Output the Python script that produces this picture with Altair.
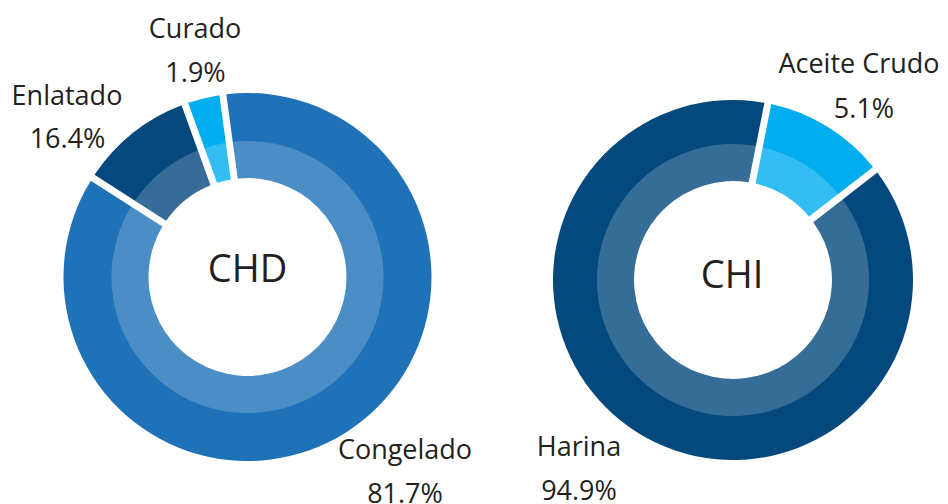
import math
import altair as alt
import pandas as pd

# ---- data ----
chd_cats = ["Congelado", "Enlatado", "Curado"]
chd_label_pct = [81.7, 16.4, 1.9]          # printed labels
chd_slice_share = [86.3, 10.4, 3.4]        # angular share of each slice as drawn
chi_cats = ["Harina", "Aceite Crudo"]
chi_label_pct = [94.9, 5.1]
chi_slice_share = [88.6, 11.4]
center_titles = ["CHD", "CHI"]

# ---- styles / layout (kept apart from the data) ----
all_cats = chd_cats + chi_cats
all_colors = ["#1f72b8", "#04487d", "#00adef", "#03497e", "#00adef"]
W, H = 932, 496
FONT = "Open Sans"
TXT = "#231f20"

left = dict(cx=239.5, cy=269, r_out=184, start=math.radians(-7.7))
right = dict(cx=725, cy=272, r_out=180, start=math.radians(52.2))
R_RING, R_HOLE = 136, 99

def make_df(cats, shares):
    return pd.DataFrame({"cat": cats, "share": shares, "idx": list(range(len(cats)))})

df_l = make_df(chd_cats, chd_slice_share)
df_r = make_df(chi_cats, chi_slice_share)

color_scale = alt.Scale(domain=all_cats, range=all_colors)

def donut(df, g):
    rng = [g["start"], g["start"] + 2 * math.pi]
    pad = 7.0 / math.sqrt(R_HOLE ** 2 + g["r_out"] ** 2)
    base = alt.Chart(df).mark_arc(
        radius=g["r_out"], radius2=R_HOLE, padAngle=pad
    ).encode(
        theta=alt.Theta("share:Q", stack=True, scale=alt.Scale(range=rng)),
        order=alt.Order("idx:Q"),
        color=alt.Color("cat:N", scale=color_scale, legend=None),
        x=alt.value(g["cx"]),
        y=alt.value(g["cy"]),
    )
    overlay = alt.Chart(df).mark_arc(
        radius=R_RING, radius2=R_HOLE, color="white", opacity=0.2
    ).encode(
        theta=alt.Theta("share:Q", stack=True, scale=alt.Scale(range=rng)),
        order=alt.Order("idx:Q"),
        x=alt.value(g["cx"]),
        y=alt.value(g["cy"]),
    )
    return base, overlay

b1, o1 = donut(df_l, left)
b2, o2 = donut(df_r, right)

# label annotation layout (pixel positions inside the chart)
name_pos = {
    "Congelado": (397, 451), "Enlatado": (59, 97), "Curado": (187, 30),
    "Harina": (571, 448), "Aceite Crudo": (851, 65),
}
pct_pos = {
    "Congelado": (397, 495), "Enlatado": (59.5, 140), "Curado": (187.5, 74),
    "Harina": (571, 492), "Aceite Crudo": (856, 110),
}
labels = []
for cat, p in zip(chd_cats + chi_cats, chd_label_pct + chi_label_pct):
    labels.append({"txt": cat, "x": name_pos[cat][0], "y": name_pos[cat][1]})
    labels.append({"txt": f"{p:.1f}%", "x": pct_pos[cat][0], "y": pct_pos[cat][1]})
lab_df = pd.DataFrame(labels)

lab = alt.Chart(lab_df).mark_text(
    font=FONT, fontSize=27, color=TXT, align="center", baseline="alphabetic"
).encode(
    x=alt.X("x:Q", scale=None), y=alt.Y("y:Q", scale=None), text="txt:N"
)

ctr_df = pd.DataFrame({"txt": center_titles,
                       "x": [left["cx"], right["cx"] - 1],
                       "y": [274, 280]})
ctr = alt.Chart(ctr_df).mark_text(
    font=FONT, fontSize=38, color=TXT, align="center", baseline="alphabetic"
).encode(
    x=alt.X("x:Q", scale=None), y=alt.Y("y:Q", scale=None), text="txt:N"
)

chart = alt.layer(b1, o1, b2, o2, lab, ctr).resolve_scale(
    theta="independent"
).properties(
    width=W, height=H, padding=0, autosize="none"
).configure_view(stroke=None)

chart.save("out.html", embed_options={"renderer": "svg", "actions": False})
